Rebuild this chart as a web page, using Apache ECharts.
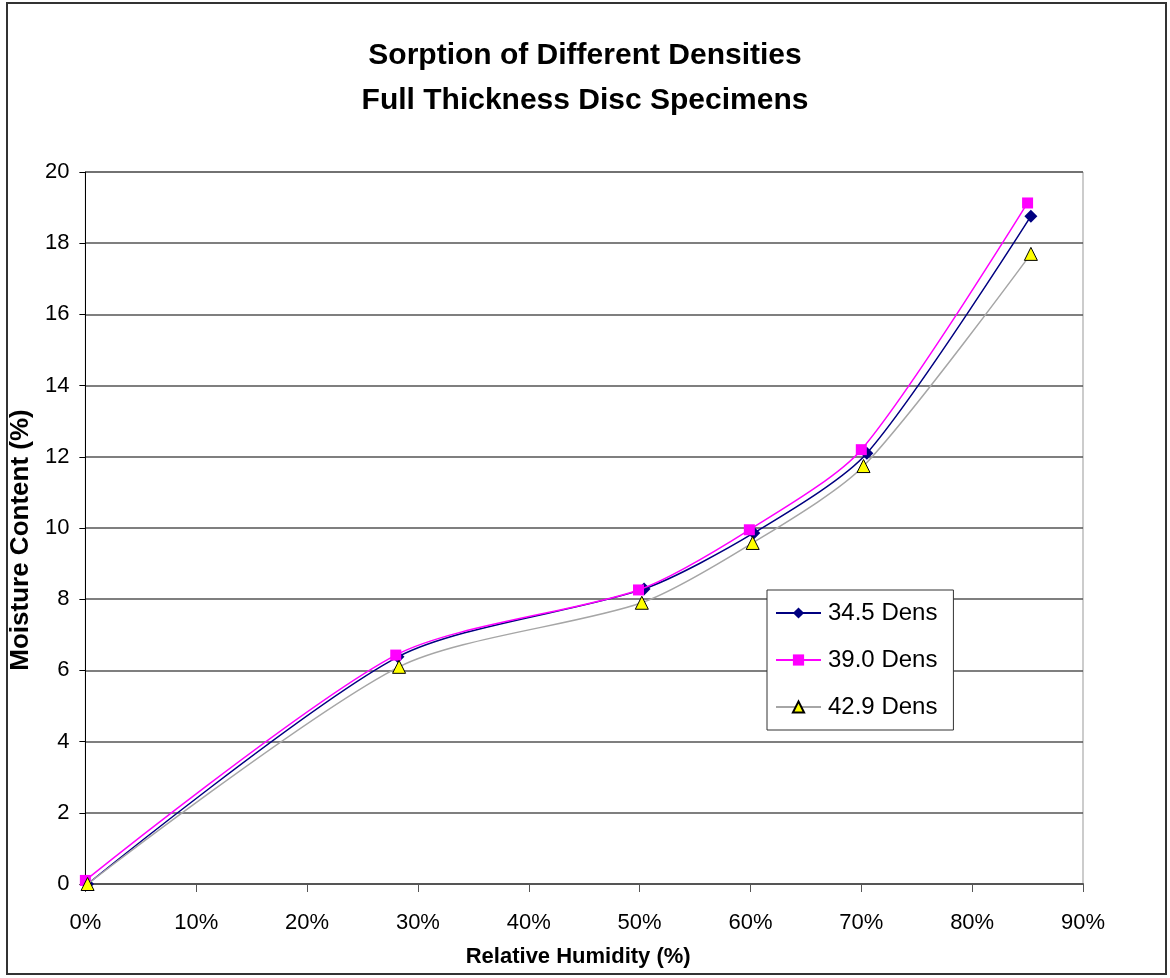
<!DOCTYPE html>
<html>
<head>
<meta charset="utf-8">
<script src="https://cdn.jsdelivr.net/npm/echarts@6/dist/echarts.min.js"></script>
<style>
  html, body { margin: 0; padding: 0; background: #fff; }
  #chart { width: 1170px; height: 978px; }
</style>
</head>
<body>
<div id="chart"></div>
<script>
// Sorption isotherms: relative humidity (%) vs. moisture content (%)
const titleLines = ['Sorption of Different Densities', 'Full Thickness Disc Specimens'];
const xAxisName = 'Relative Humidity (%)';
const yAxisName = 'Moisture Content (%)';
const seriesNames = ['34.5 Dens', '39.0 Dens', '42.9 Dens'];

const rh34 = [0.2, 28.2, 50.4, 60.3, 70.5, 85.3];
const mc34 = [0.0, 6.38, 8.29, 9.86, 12.1, 18.76];

const rh39 = [0.0, 28.0, 49.9, 59.9, 70.0, 85.0];
const mc39 = [0.1, 6.43, 8.26, 9.95, 12.2, 19.13];

const rh42 = [0.2, 28.3, 50.2, 60.2, 70.2, 85.3];
const mc42 = [0.0, 6.1, 7.9, 9.58, 11.74, 17.7];

const pairs = (xs, ys) => xs.map((x, i) => [x, ys[i]]);

const FONT = '"Liberation Sans", Arial, sans-serif';
const SMOOTH = 0.26;

const chart = echarts.init(document.getElementById('chart'), null, { renderer: 'canvas' });

chart.setOption({
  backgroundColor: '#fff',
  animation: false,
  title: {
    text: titleLines.join('\n'),
    left: 'center',
    top: 28,
    textStyle: { fontFamily: FONT, fontSize: 30, fontWeight: 'bold', color: '#000', lineHeight: 45 }
  },
  graphic: [{
    type: 'rect',
    shape: { x: 7, y: 3, width: 1159, height: 971 },
    style: { fill: null, stroke: '#333', lineWidth: 2 },
    silent: true,
    z: 100
  }],
  grid: {
    left: 82, right: 87, top: 172, bottom: 94,
    show: true, borderColor: '#999', borderWidth: 1, backgroundColor: '#fff'
  },
  legend: {
    orient: 'vertical',
    left: 767, top: 590,
    backgroundColor: '#fff',
    borderColor: '#333', borderWidth: 1,
    padding: [11, 16, 11, 8],
    itemWidth: 45, itemHeight: 14, itemGap: 23,
    textStyle: { fontFamily: FONT, fontSize: 24, color: '#000', padding: [0, 0, 0, 2] },
    data: seriesNames
  },
  xAxis: {
    type: 'value',
    min: 0, max: 90, interval: 10,
    name: xAxisName,
    nameLocation: 'middle',
    nameGap: 62,
    nameTextStyle: { fontFamily: FONT, fontSize: 22, fontWeight: 'bold', color: '#000', padding: [0, 12, 0, 0] },
    axisLine: { onZero: false, lineStyle: { color: '#555', width: 2 } },
    axisTick: { show: true, inside: false, length: 8, lineStyle: { color: '#555', width: 1 } },
    axisLabel: { fontFamily: FONT, fontSize: 22, color: '#000', margin: 28, formatter: v => v + '%' },
    splitLine: { show: false }
  },
  yAxis: {
    type: 'value',
    min: 0, max: 20, interval: 2,
    name: yAxisName,
    nameLocation: 'middle',
    nameRotate: 90,
    nameGap: 46,
    nameTextStyle: { fontFamily: FONT, fontSize: 26, fontWeight: 'bold', color: '#000', padding: [0, 24, 0, 0] },
    axisLine: { show: true, lineStyle: { color: '#000', width: 1 } },
    axisTick: { show: true, inside: false, length: 6, lineStyle: { color: '#000', width: 1 } },
    axisLabel: { fontFamily: FONT, fontSize: 22, color: '#000', margin: 16 },
    splitLine: { show: true, lineStyle: { color: '#555', width: 1.5 } }
  },
  series: [
    {
      name: seriesNames[0], type: 'line', smooth: SMOOTH,
      data: pairs(rh34, mc34),
      symbol: 'diamond', symbolSize: 13,
      lineStyle: { color: '#000080', width: 1.5 },
      itemStyle: { color: '#000080', borderWidth: 0 },
      z: 3
    },
    {
      name: seriesNames[1], type: 'line', smooth: SMOOTH,
      data: pairs(rh39, mc39),
      symbol: 'rect', symbolSize: 11,
      lineStyle: { color: '#FF00FF', width: 1.5 },
      itemStyle: { color: '#FF00FF', borderWidth: 0 },
      z: 4
    },
    {
      name: seriesNames[2], type: 'line', smooth: SMOOTH,
      data: pairs(rh42, mc42),
      symbol: 'triangle', symbolSize: 13,
      lineStyle: { color: '#A6A6A6', width: 1.5 },
      itemStyle: { color: '#FFFF00', borderColor: '#000', borderWidth: 1 },
      z: 5
    }
  ]
});
</script>
</body>
</html>
